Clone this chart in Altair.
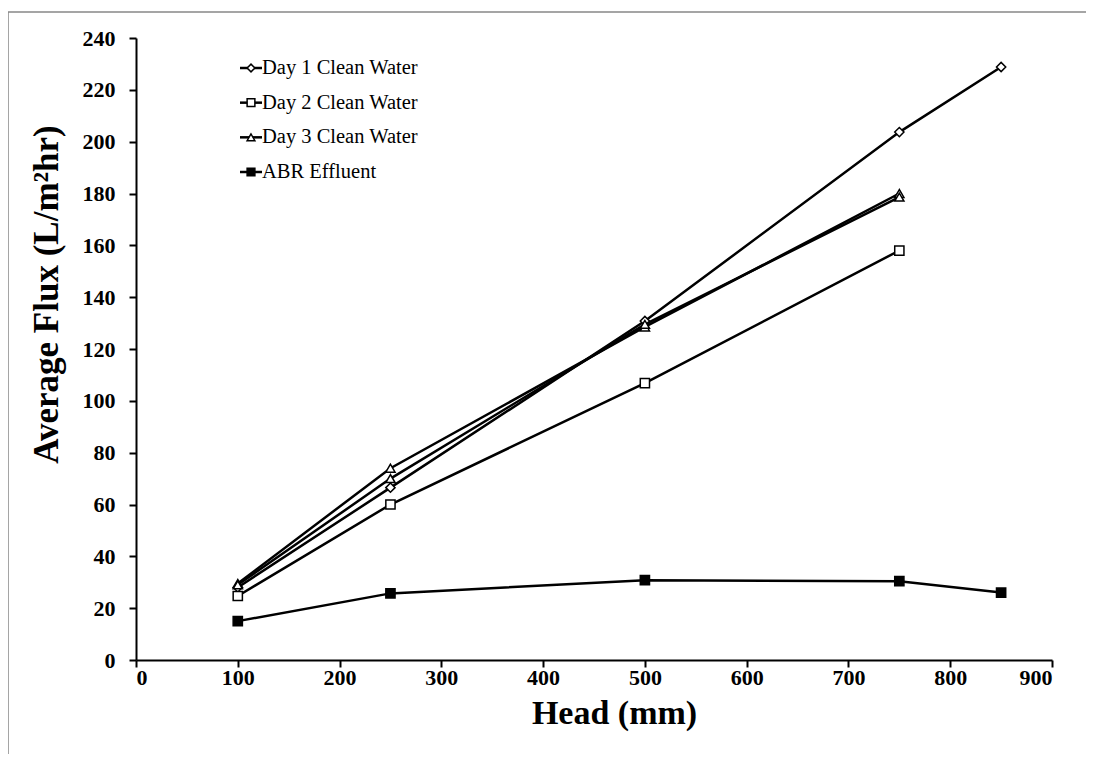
import altair as alt
import pandas as pd

# ---- data ----
heads = [100, 250, 500, 750, 850]
series_names = ["Day 1 Clean Water", "Day 2 Clean Water", "Day 3 Clean Water", "ABR Effluent"]
hidden_name = "Day 3 Clean Water (repeat)"

day1 = [28.0, 66.5, 130.8, 203.7, 228.8]
day2 = [24.7, 60.0, 106.8, 158.0]
day3 = [29.5, 74.0, 128.5, 180.0]
day3_repeat = [29.0, 70.0, 129.5, 178.6]
abr = [15.0, 25.7, 30.8, 30.4, 26.0]

x_ticks = [0, 100, 200, 300, 400, 500, 600, 700, 800, 900]
y_ticks = [0, 20, 40, 60, 80, 100, 120, 140, 160, 180, 200, 220, 240]

rows = []
for name, vals in [(series_names[0], day1), (series_names[1], day2),
                   (series_names[2], day3), (hidden_name, day3_repeat),
                   (series_names[3], abr)]:
    for h, v in zip(heads, vals):
        rows.append({"series": name, "head": h, "flux": v})
df = pd.DataFrame(rows)

shape_domain = series_names + [hidden_name]
shape_range = ["diamond", "square", "triangle-up", "square", "triangle-up"]
fill_range = ["white", "white", "white", "black", "white"]

FONT = "Liberation Serif"
y_scale = alt.Scale(domain=[0, 240], nice=False)

x_enc = alt.X("head:Q", scale=alt.Scale(domain=[0, 900], nice=False),
              axis=alt.Axis(values=x_ticks, title="Head (mm)", grid=False,
                            labelFontSize=22, labelFontWeight="bold", labelFont=FONT,
                            titleFontSize=34, titleFontWeight="bold", titleFont=FONT,
                            titlePadding=8, labelPadding=0, titleX=478,
                            tickSize=7, tickWidth=2, domainWidth=2,
                            domainColor="black", tickColor="black",
                            labelColor="black", titleColor="black"))
y_enc = alt.Y("flux:Q", scale=y_scale,
              axis=alt.Axis(values=y_ticks, title="Average Flux (L/m²hr)", grid=False,
                            labelFontSize=22, labelFontWeight="bold", labelFont=FONT,
                            titleFontSize=35, titleFontWeight="bold", titleFont=FONT,
                            titlePadding=18, labelPadding=14, titleY=256,
                            tickSize=7, tickWidth=2, domainWidth=2,
                            domainColor="black", tickColor="black",
                            labelColor="black", titleColor="black"))

lines = alt.Chart(df).mark_line(color="black", strokeWidth=2.5).encode(
    x=x_enc, y=y_enc, detail="series:N", order="head:Q")

points = alt.Chart(df).mark_point(filled=False, size=85, strokeWidth=1.5,
                                  stroke="black", opacity=1).encode(
    x="head:Q", y=alt.Y("flux:Q", scale=y_scale, axis=None),
    shape=alt.Shape("series:N", scale=alt.Scale(domain=shape_domain, range=shape_range), legend=None),
    fill=alt.Fill("series:N", scale=alt.Scale(domain=shape_domain, range=fill_range), legend=None),
)

# ---- manual legend (in-plot, top-left) ----
leg = pd.DataFrame({"series": series_names})
leg_y = alt.Y("series:N", scale=alt.Scale(type="point", domain=series_names,
                                          range=[30, 134], padding=0), axis=None)
leg_rule = alt.Chart(leg).mark_rule(color="black", strokeWidth=2.5).encode(
    y=leg_y, x=alt.value(104), x2=alt.value(126))
leg_pts = alt.Chart(leg).mark_point(filled=False, size=60, strokeWidth=1.5,
                                    stroke="black", opacity=1).encode(
    y=leg_y, x=alt.value(115),
    shape=alt.Shape("series:N", scale=alt.Scale(domain=shape_domain, range=shape_range), legend=None),
    fill=alt.Fill("series:N", scale=alt.Scale(domain=shape_domain, range=fill_range), legend=None),
)
leg_txt = alt.Chart(leg).mark_text(align="left", baseline="middle", fontSize=20.5,
                                   font=FONT, color="black").encode(
    y=leg_y, x=alt.value(126), text="series:N")

# ---- outer frame ----
frame = alt.Chart(pd.DataFrame({"a": [0]})).mark_rect(
    fill=None, stroke="#888888", strokeWidth=1.5).encode(
    x=alt.value(-128), x2=alt.value(980), y=alt.value(-26), y2=alt.value(719))

chart = alt.layer(frame, lines, points, leg_rule, leg_pts, leg_txt).resolve_scale(
    y="independent"
).properties(
    width=916, height=622,
    padding={"left": 128, "top": 30, "right": 34, "bottom": 94},
    autosize=alt.AutoSizeParams(type="none"),
    background="white",
).configure_view(strokeWidth=0, stroke="transparent")

chart.save("out.html", embed_options={"renderer": "svg", "actions": False})
